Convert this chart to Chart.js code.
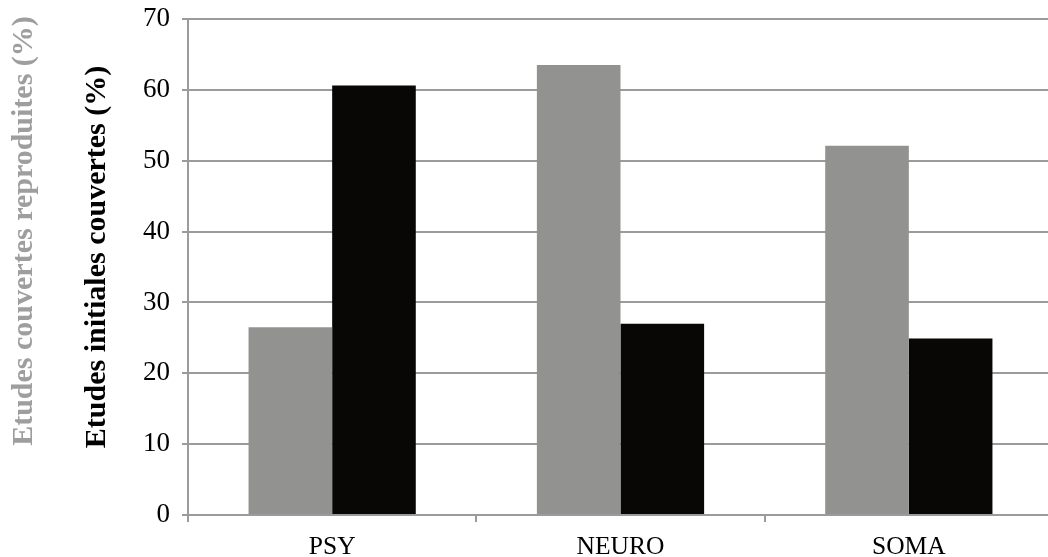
<!DOCTYPE html>
<html>
<head>
<meta charset="utf-8">
<script src="https://cdn.jsdelivr.net/npm/chart.js@4/dist/chart.umd.min.js"></script>
<style>
html,body{margin:0;padding:0;background:#fff;overflow:hidden;}
#wrap{width:1048px;height:557px;overflow:hidden;position:relative;}
canvas{display:block;}
</style>
</head>
<body>
<div id="wrap"><canvas id="c" width="1053" height="557"></canvas></div>
<script>
const categories = ['PSY', 'NEURO', 'SOMA'];
const reproduites = [26.5, 63.5, 52.1];   // gray series
const initiales = [60.6, 27.0, 24.9];     // black series
const yTicks = [0, 10, 20, 30, 40, 50, 60, 70];
const titleGray = 'Etudes couvertes reproduites (%)';
const titleBlack = 'Etudes initiales couvertes (%)';

const FONT = "'Liberation Serif', 'Times New Roman', serif";
const GRID = '#9b9b9b';

const titlesPlugin = {
  id: 'sideTitles',
  afterDraw(chart) {
    const ctx = chart.ctx;
    const items = [
      { text: titleGray, color: '#9e9e9e', x: 32, y: 231 },
      { text: titleBlack, color: '#000', x: 105, y: 257 }
    ];
    items.forEach(it => {
      ctx.save();
      ctx.textAlign = 'center';
      ctx.textBaseline = 'alphabetic';
      ctx.font = 'bold 30px ' + FONT;
      ctx.fillStyle = it.color;
      ctx.translate(it.x, it.y);
      ctx.rotate(-Math.PI / 2);
      ctx.fillText(it.text, 0, 0);
      ctx.restore();
    });
  }
};

new Chart(document.getElementById('c'), {
  type: 'bar',
  data: {
    labels: categories,
    datasets: [
      { label: titleGray, data: reproduites, backgroundColor: '#929290', borderWidth: 0,
        categoryPercentage: 0.58, barPercentage: 1.0 },
      { label: titleBlack, data: initiales, backgroundColor: '#080706', borderWidth: 0,
        categoryPercentage: 0.58, barPercentage: 1.0 }
    ]
  },
  options: {
    responsive: false,
    animation: false,
    layout: { padding: { left: 0, right: 0, top: 19, bottom: 0 } },
    plugins: { legend: { display: false }, tooltip: { enabled: false } },
    scales: {
      x: {
        grid: { display: true, drawOnChartArea: false, drawTicks: true, tickLength: 7, color: GRID, lineWidth: 2, offset: true },
        border: { display: true, color: GRID, width: 2 },
        ticks: { color: '#000', font: { family: FONT, size: 25.5, lineHeight: 1.2 }, padding: 10 },
        afterFit(s) { s.height = 42; }
      },
      y: {
        min: 0, max: 70,
        afterBuildTicks(s) { s.ticks = yTicks.map(v => ({ value: v })); },
        grid: { color: GRID, lineWidth: 2, tickLength: 6 },
        border: { display: true, color: GRID, width: 2 },
        ticks: { color: '#000', font: { family: FONT, size: 27, lineHeight: 1.2 }, padding: 12 },
        afterFit(s) { s.width = 188; s.paddingTop = 0; s.paddingBottom = 0; }
      }
    }
  },
  plugins: [titlesPlugin]
});
</script>
</body>
</html>
